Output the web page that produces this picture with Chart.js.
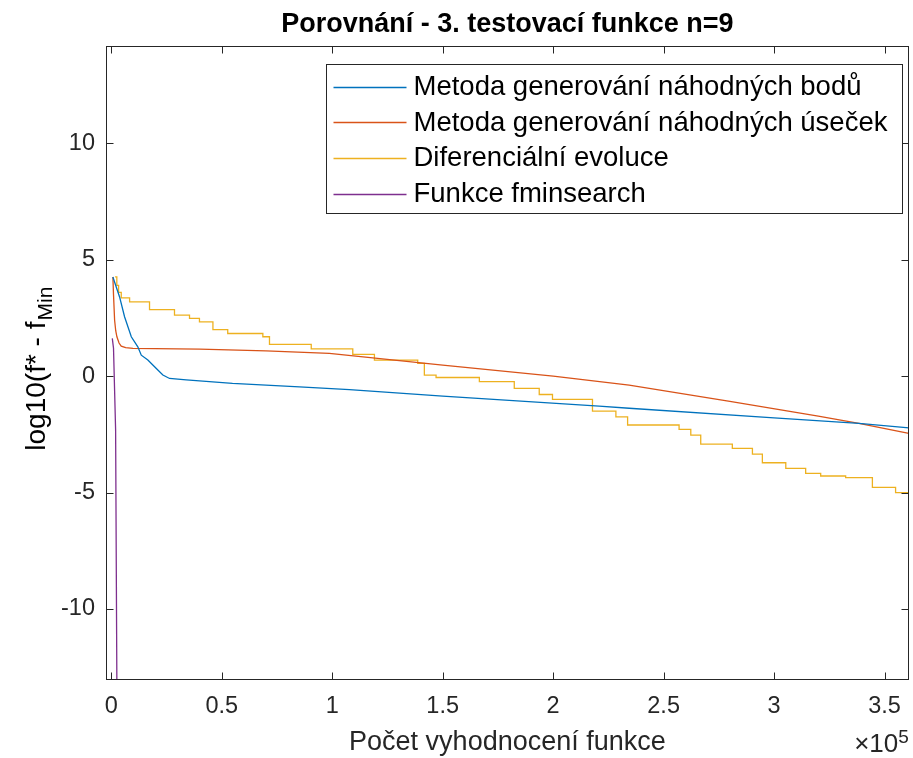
<!DOCTYPE html>
<html>
<head>
<meta charset="utf-8">
<script src="https://cdn.jsdelivr.net/npm/chart.js@4.4.1/dist/chart.umd.min.js"></script>
<style>
  html, body { margin: 0; padding: 0; background: #fff; }
  #wrap { width: 913px; height: 758px; }
</style>
</head>
<body>
<div id="wrap"><canvas id="chart" width="913" height="758"></canvas></div>
<script>
// Values (x = function evaluations, y = log10 error)
const bodyX = [720, 3750, 6000, 9050, 12000, 13570, 16550, 19580, 23340, 26370, 33920, 54860, 85160, 107800, 150000, 220800, 234400, 300000, 338400, 361000];
const bodyY = [4.26, 3.4, 2.55, 1.69, 1.26, 0.9, 0.69, 0.4, 0.05, -0.1, -0.16, -0.31, -0.46, -0.58, -0.86, -1.29, -1.38, -1.79, -2.03, -2.22];

const usekX = [720, 1000, 1500, 2000, 2530, 3500, 4500, 6500, 9770, 40000, 70000, 98700, 150000, 200000, 234400, 280000, 320000, 338400, 361000];
const usekY = [4.26, 3.5, 2.4, 1.95, 1.69, 1.42, 1.29, 1.22, 1.19, 1.16, 1.08, 0.98, 0.47, 0.0, -0.39, -1.08, -1.72, -2.03, -2.46];

// differential evolution is a step line: each point starts a new level
const deX = [1700, 2500, 3300, 4500, 8280, 17300, 28600, 35400, 39900, 46000, 52700, 68600, 71600, 90500, 109300, 119100, 138700, 141700, 147000, 166600, 182400, 193700, 199700, 217800, 228400, 233700, 257000, 262300, 266800, 281100, 290200, 294700, 305300, 314300, 321100, 332400, 344500, 355000, 361000];
const deY = [4.26, 3.9, 3.6, 3.36, 3.19, 2.86, 2.62, 2.48, 2.33, 2.0, 1.83, 1.69, 1.36, 1.17, 0.93, 0.69, 0.55, 0.04, -0.06, -0.24, -0.53, -0.79, -1.0, -1.5, -1.75, -2.1, -2.29, -2.53, -2.92, -3.1, -3.35, -3.72, -3.96, -4.18, -4.29, -4.36, -4.78, -5.0, -5.0];

const fminX = [450, 1000, 1950, 2560];
const fminY = [1.62, 1.2, -2.3, -14];

const seriesNames = [
  'Metoda generování náhodných bodů',
  'Metoda generování náhodných úseček',
  'Diferenciální evoluce',
  'Funkce fminsearch'
];
const seriesColors = ['#0072BD', '#D95319', '#EDB120', '#7E2F8E'];

const xTicks = [0, 50000, 100000, 150000, 200000, 250000, 300000, 350000];
const yTicks = [-10, -5, 0, 5, 10];

const FONT = "'Liberation Sans', Arial, sans-serif";
const INK = '#262626';

function toPoints(xs, ys) {
  return xs.map((x, i) => ({ x: x, y: ys[i] }));
}

// MATLAB-like box: frame, inward ticks, legend box, y label with subscript, x10^5
const matlabAxes = {
  id: 'matlabAxes',
  afterDatasetsDraw(chart) {
    const ctx = chart.ctx;
    const a = chart.chartArea;
    const xs = chart.scales.x, ys = chart.scales.y;
    const L = Math.round(a.left) + 0.5, R = Math.round(a.right) - 0.5;
    const T = Math.round(a.top) + 0.5, B = Math.round(a.bottom) - 0.5;
    const tl = 7;
    ctx.save();
    ctx.strokeStyle = INK;
    ctx.lineWidth = 1;
    ctx.beginPath();
    xTicks.forEach(v => {
      const px = Math.round(xs.getPixelForValue(v)) + 0.5;
      ctx.moveTo(px, B); ctx.lineTo(px, B - tl);
      ctx.moveTo(px, T); ctx.lineTo(px, T + tl);
    });
    yTicks.forEach(v => {
      const py = Math.round(ys.getPixelForValue(v)) + 0.5;
      ctx.moveTo(L, py); ctx.lineTo(L + tl, py);
      ctx.moveTo(R, py); ctx.lineTo(R - tl, py);
    });
    ctx.stroke();
    ctx.strokeRect(L, T, R - L, B - T);

    // legend
    const lw = 576, lh = 149;
    const lx = Math.round(a.right - 7 - lw) + 0.5, ly = Math.round(a.top + 18) + 0.5;
    ctx.fillStyle = '#fff';
    ctx.fillRect(lx, ly, lw, lh);
    ctx.strokeStyle = INK;
    ctx.strokeRect(lx, ly, lw, lh);
    ctx.font = '27.5px ' + FONT;
    ctx.textBaseline = 'middle';
    ctx.textAlign = 'left';
    seriesNames.forEach((name, i) => {
      const cy = ly + 22 + i * 35.7;
      ctx.strokeStyle = seriesColors[i];
      ctx.lineWidth = 1.3;
      ctx.beginPath();
      ctx.moveTo(lx + 7, Math.round(cy) + 0.5);
      ctx.lineTo(lx + 80, Math.round(cy) + 0.5);
      ctx.stroke();
      ctx.fillStyle = '#000';
      ctx.fillText(name, lx + 87, cy + 1);
    });

    // y axis label: log10(f* - f_Min
    const main = 'log10(f* - f', sub = 'Min';
    ctx.font = '28px ' + FONT;
    const wMain = ctx.measureText(main).width;
    ctx.font = '21px ' + FONT;
    const wSub = ctx.measureText(sub).width;
    const mid = (a.top + a.bottom) / 2 + 6;
    ctx.translate(45, mid);
    ctx.rotate(-Math.PI / 2);
    ctx.fillStyle = '#000';
    ctx.textBaseline = 'alphabetic';
    ctx.font = '28px ' + FONT;
    const start = -(wMain + wSub) / 2;
    ctx.fillText(main, start, 0);
    ctx.font = '21px ' + FONT;
    ctx.fillText(sub, start + wMain + 1, 7);
    ctx.setTransform(1, 0, 0, 1, 0, 0);

    // exponent note under the x axis
    ctx.fillStyle = INK;
    ctx.textAlign = 'right';
    ctx.textBaseline = 'alphabetic';
    ctx.font = '19px ' + FONT;
    const w5 = ctx.measureText('5').width;
    ctx.fillText('5', a.right, 743);
    ctx.font = '26px ' + FONT;
    ctx.fillText('\u00D710', a.right - w5, 752);
    ctx.restore();
  }
};

new Chart(document.getElementById('chart'), {
  type: 'line',
  data: {
    datasets: [
      { label: seriesNames[0], data: toPoints(bodyX, bodyY), borderColor: seriesColors[0] },
      { label: seriesNames[1], data: toPoints(usekX, usekY), borderColor: seriesColors[1] },
      { label: seriesNames[2], data: toPoints(deX, deY), borderColor: seriesColors[2], stepped: true },
      { label: seriesNames[3], data: toPoints(fminX, fminY), borderColor: seriesColors[3] }
    ]
  },
  options: {
    responsive: false,
    animation: false,
    layout: { padding: { left: 0, right: 3, top: 0, bottom: 0 } },
    elements: {
      line: { borderWidth: 1.3, tension: 0, fill: false },
      point: { radius: 0 }
    },
    plugins: {
      legend: { display: false },
      tooltip: { enabled: false },
      title: {
        display: true,
        fullSize: false,
        text: 'Porovnání - 3. testovací funkce n=9',
        color: '#000',
        font: { family: FONT, size: 27, weight: 'bold', lineHeight: 1.2 },
        padding: { top: 8, bottom: 6 }
      }
    },
    scales: {
      x: {
        type: 'linear',
        min: -2400,
        max: 361000,
        grid: { display: false, drawTicks: false },
        border: { display: false },
        afterBuildTicks: scale => { scale.ticks = xTicks.map(v => ({ value: v })); },
        afterFit: scale => { scale.height = 78; },
        ticks: {
          color: INK,
          padding: 12,
          maxRotation: 0,
          font: { family: FONT, size: 23.5 },
          callback: v => String(v / 100000)
        },
        title: {
          display: true,
          text: 'Počet vyhodnocení funkce',
          color: INK,
          font: { family: FONT, size: 27, lineHeight: 1.15 },
          padding: { top: 0, bottom: 0 }
        }
      },
      y: {
        min: -13.05,
        max: 14.16,
        grid: { display: false, drawTicks: false },
        border: { display: false },
        afterBuildTicks: scale => { scale.ticks = yTicks.map(v => ({ value: v })); },
        afterFit: scale => { scale.width = 106; },
        ticks: {
          color: INK,
          padding: 11,
          font: { family: FONT, size: 23.5 },
          callback: v => String(v)
        }
      }
    }
  },
  plugins: [matlabAxes]
});
</script>
</body>
</html>
